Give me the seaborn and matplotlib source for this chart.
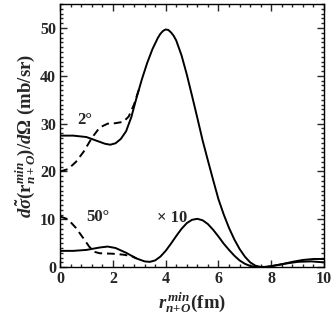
import numpy as np
import pandas as pd
import matplotlib
matplotlib.use("Agg")
import matplotlib.pyplot as plt
from matplotlib.ticker import MultipleLocator
import seaborn as sns

# ---- data ----
x_2deg = [0, 0.5, 1.0, 1.4, 1.7, 1.9, 2.1, 2.3, 2.5, 2.7, 2.9, 3.1, 3.3, 3.5, 3.7, 3.8, 3.9,
          4.0, 4.1, 4.2, 4.3, 4.4, 4.6, 4.8, 5.0, 5.2, 5.4, 5.6, 5.8, 6.0, 6.2, 6.4, 6.6,
          6.8, 7.0, 7.2, 7.4, 7.6, 7.8, 8.0, 8.5, 9.0, 9.5, 10.0]
y_2deg_solid = [27.5, 27.5, 27.2, 26.4, 25.8, 25.6, 25.9, 26.8, 28.4, 31.4, 35.5, 39.3, 42.7,
                45.6, 47.9, 48.8, 49.4, 49.7, 49.6, 49.1, 48.4, 47.4, 44.3, 40.3, 35.8, 31.2,
                26.5, 22.3, 18.2, 14.2, 11.0, 8.2, 5.8, 3.8, 2.2, 1.0, 0.3, 0.05, 0.05, 0.2,
                0.7, 1.1, 1.2, 1.0]
x_2deg_dash = [0, 0.3, 0.6, 0.9, 1.2, 1.5, 1.8, 2.1, 2.4, 2.6, 2.8, 3.0]
y_2deg_dash = [20.0, 20.5, 22.0, 24.2, 27.0, 29.2, 30.0, 30.1, 30.4, 31.5, 34.0, 37.4]

x_50deg = [0, 0.5, 1.0, 1.5, 1.8, 2.1, 2.5, 2.9, 3.2, 3.4, 3.6, 3.8, 4.0, 4.2, 4.4, 4.6, 4.8,
           5.0, 5.2, 5.4, 5.6, 5.8, 6.0, 6.2, 6.4, 6.6, 6.8, 7.0, 7.2, 7.4, 7.6, 7.8, 8.0,
           8.4, 8.8, 9.2, 9.6, 10.0]
y_50deg_solid = [3.4, 3.4, 3.6, 4.1, 4.3, 4.0, 3.0, 1.8, 1.2, 1.1, 1.4, 2.2, 3.4, 4.9, 6.5,
                 8.0, 9.2, 9.9, 10.1, 9.8, 9.0, 7.8, 6.4, 4.9, 3.6, 2.4, 1.4, 0.7, 0.25, 0.05,
                 0.0, 0.05, 0.2, 0.6, 1.1, 1.5, 1.7, 1.7]
x_50deg_dash = [0, 0.3, 0.6, 0.9, 1.1, 1.3, 1.5, 2.0, 2.4, 2.7, 2.9]
y_50deg_dash = [10.6, 10.0, 8.2, 5.9, 4.3, 3.2, 2.9, 2.8, 2.6, 2.3, 1.8]

sns.set_style("ticks")
plt.rcParams["font.family"] = ["Liberation Serif", "DejaVu Serif"]
plt.rcParams["font.weight"] = "bold"
plt.rcParams["axes.labelweight"] = "bold"
plt.rcParams["mathtext.fontset"] = "custom"
plt.rcParams["mathtext.rm"] = "Liberation Serif:bold"
plt.rcParams["mathtext.it"] = "Liberation Serif:italic:bold"
plt.rcParams["mathtext.bf"] = "Liberation Serif:bold"

fig = plt.figure(figsize=(3.32, 3.18), dpi=100)
ax = fig.add_axes([0.181, 0.160, 0.795, 0.827])

df_s2 = pd.DataFrame({"x": x_2deg, "y": y_2deg_solid})
df_d2 = pd.DataFrame({"x": x_2deg_dash, "y": y_2deg_dash})
df_s50 = pd.DataFrame({"x": x_50deg, "y": y_50deg_solid})
df_d50 = pd.DataFrame({"x": x_50deg_dash, "y": y_50deg_dash})

lw = 1.4
sns.lineplot(data=df_s2, x="x", y="y", ax=ax, color="black", lw=lw, sort=False)
sns.lineplot(data=df_d2, x="x", y="y", ax=ax, color="black", lw=lw, sort=False,
             linestyle=(0, (4, 2.5)))
sns.lineplot(data=df_s50, x="x", y="y", ax=ax, color="black", lw=lw, sort=False)
sns.lineplot(data=df_d50, x="x", y="y", ax=ax, color="black", lw=lw, sort=False,
             linestyle=(0, (4, 2.5)))
for ln in ax.lines:
    ln.set_solid_joinstyle("round")
    ln.set_dash_joinstyle("round")

ax.set_xlim(0, 10)
ax.set_ylim(0, 55)
ax.xaxis.set_major_locator(MultipleLocator(2))
ax.xaxis.set_minor_locator(MultipleLocator(0.4))
ax.yaxis.set_major_locator(MultipleLocator(10))
ax.yaxis.set_minor_locator(MultipleLocator(1))
ax.tick_params(which="both", direction="in", top=True, right=True, labelsize=11.5, width=1)
ax.tick_params(which="major", length=5, pad=3)
ax.tick_params(which="minor", length=2.5)
for lab in ax.get_xticklabels() + ax.get_yticklabels():
    lab.set_fontweight("bold")
for sp in ax.spines.values():
    sp.set_linewidth(1)
    sp.set_color("black")

ax.set_xlabel(r"$r_{n\!+\!O}^{\,min}$(fm)", fontsize=13.5, fontweight="bold", labelpad=3)
ax.set_ylabel(r"$d\tilde{\sigma}(\mathrm{r}_{n+O}^{min})/d\mathit{\Omega}$ (mb/sr)",
              fontsize=13.5, fontweight="bold", labelpad=1)

ax.text(0.95, 30.8, "2°", fontsize=12, fontweight="bold", ha="center", va="center")
ax.text(1.45, 10.4, "50°", fontsize=12, fontweight="bold", ha="center", va="center")
ax.text(4.25, 10.2, "× 10", fontsize=12, fontweight="bold", ha="center", va="center")

fig.savefig("out.png", dpi=100)
